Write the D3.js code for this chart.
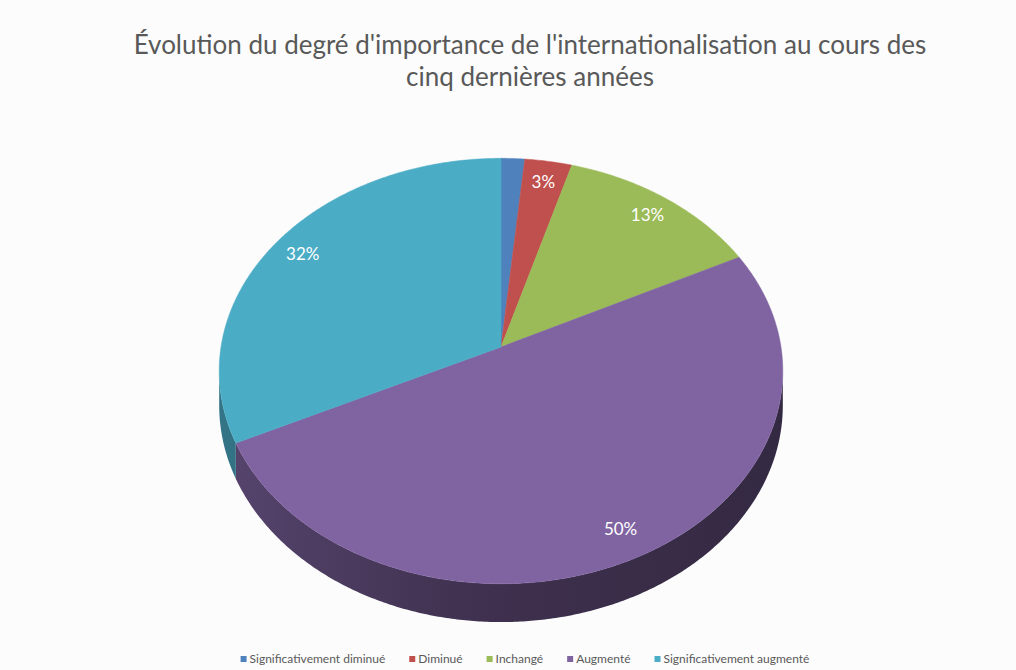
<!DOCTYPE html>
<html>
<head>
<meta charset="utf-8">
<script src="https://cdn.jsdelivr.net/npm/d3@7"></script>
<style>
  html, body { margin: 0; padding: 0; background: #fcfcfc; }
  svg { display: block; font-family: Lato, "Open Sans", sans-serif; }
</style>
</head>
<body>
<div id="chart"></div>
<script>
// data
const categories = ["Significativement diminué", "Diminué", "Inchangé", "Augmenté", "Significativement augmenté"];
const values = [1.5, 3, 13, 50, 32];
const colors = ["#4f81bd", "#c0504d", "#9bbb59", "#8064a2", "#4bacc6"];
const titleLines = ["Évolution du degré d'importance de l'internationalisation au cours des", "cinq dernières années"];

const width = 1016;
const height = 670;

// 3d pie geometry (perspective tilt)
const cx = 501, cy = 347;
const A = 280, B = 210;
const k = 0.113;
const depth = 34;

const svg = d3.select("#chart").append("svg")
  .attr("width", width)
  .attr("height", height);

svg.append("rect")
  .attr("width", width)
  .attr("height", height)
  .attr("fill", "#fcfcfc");

// project angle / radius / depth onto the screen
function proj(theta, r, z) {
  const w = r * Math.cos(theta);
  const s = 1 + k * w;
  return [cx + A * r * Math.sin(theta) / s, cy - B * w / s + z * depth / s];
}

const data = categories.map((c, i) => ({ name: c, value: values[i], color: colors[i] }));
const arcs = d3.pie().sort(null).value(d => d.value)(data);

const line = d3.line();
const defs = svg.append("defs");

// side walls, visible only on the front
const thL = Math.acos(-k);
const thR = 2 * Math.PI - thL;
const step = Math.PI / 360;

const walls = svg.append("g");
arcs.forEach((a, i) => {
  const a0 = Math.max(a.startAngle, thL);
  const a1 = Math.min(a.endAngle, thR);
  if (a1 <= a0) return;

  const base = d3.color(a.data.color);
  const grad = defs.append("linearGradient")
    .attr("id", "side" + i)
    .attr("gradientUnits", "userSpaceOnUse")
    .attr("x1", cx - A).attr("x2", cx + A)
    .attr("y1", 0).attr("y2", 0);
  grad.append("stop").attr("offset", "0%").attr("stop-color", base.darker(1.1));
  grad.append("stop").attr("offset", "45%").attr("stop-color", base.darker(2.0));
  grad.append("stop").attr("offset", "100%").attr("stop-color", base.darker(2.5));

  const top = d3.range(a0, a1, step).concat([a1]).map(t => proj(t, 1, 0));
  const bot = d3.range(a0, a1, step).concat([a1]).reverse().map(t => proj(t, 1, 1));
  walls.append("path")
    .attr("d", line(top.concat(bot)) + "Z")
    .attr("fill", `url(#side${i})`);
});

// top faces
const tops = svg.append("g");
arcs.forEach(a => {
  const pts = d3.range(a.startAngle, a.endAngle, step).concat([a.endAngle]).map(t => proj(t, 1, 0));
  tops.append("path")
    .attr("d", line([proj(0, 0, 0)].concat(pts)) + "Z")
    .attr("fill", a.data.color)
    .attr("stroke", a.data.color)
    .attr("stroke-width", 0.5);
});

// data labels
const total = d3.sum(values);
svg.append("g").selectAll("text")
  .data(arcs.filter(a => a.data.value >= 2))
  .enter()
  .append("text")
  .attr("x", a => proj((a.startAngle + a.endAngle) / 2, 0.88, 0)[0])
  .attr("y", a => proj((a.startAngle + a.endAngle) / 2, 0.88, 0)[1])
  .attr("dy", "0.35em")
  .attr("text-anchor", "middle")
  .attr("fill", "#ffffff")
  .attr("font-size", 17)
  .text(a => Math.round(a.data.value / total * 100) + "%");

// title
const title = svg.append("g");
titleLines.forEach((t, i) => {
  title.append("text")
    .attr("x", 530)
    .attr("y", 54 + i * 32)
    .attr("text-anchor", "middle")
    .attr("fill", "#595959")
    .attr("font-size", 26)
    .text(t);
});

// legend
const legend = svg.append("g").attr("font-size", 12).attr("fill", "#595959");
const items = legend.selectAll("g")
  .data(data)
  .enter()
  .append("g");
items.append("rect")
  .attr("width", 6)
  .attr("height", 6)
  .attr("y", -7)
  .attr("fill", d => d.color);
items.append("text")
  .attr("x", 9)
  .text(d => d.name);

let xPos = 0;
const gap = 24;
items.each(function () {
  const w = d3.select(this).select("text").node().getComputedTextLength() + 9;
  d3.select(this).attr("transform", `translate(${xPos},0)`);
  xPos += w + gap;
});
const legendWidth = xPos - gap;
legend.attr("transform", `translate(${525 - legendWidth / 2},663)`);
</script>
</body>
</html>
